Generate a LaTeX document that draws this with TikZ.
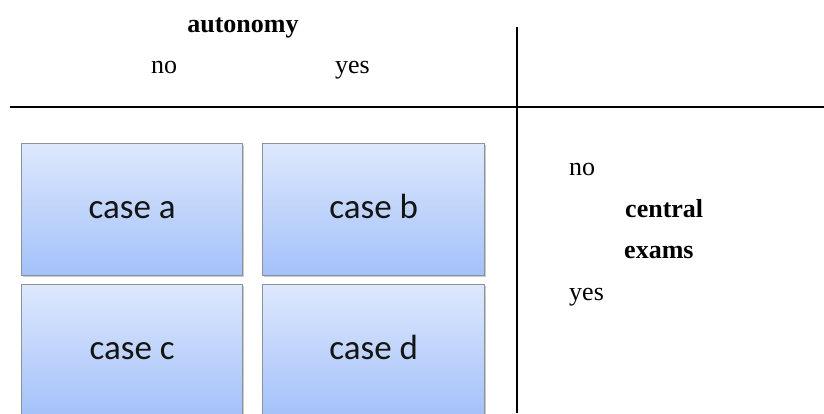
\documentclass[tikz,border=0pt]{standalone}
\usepackage{fontspec}
\usetikzlibrary{shadows}
\setmainfont{Liberation Serif}
\newfontfamily\casefont{Carlito}
\definecolor{boxtop}{RGB}{221,232,253}
\definecolor{boxbot}{RGB}{163,193,249}
\definecolor{boxedge}{RGB}{140,146,156}
\definecolor{casetext}{RGB}{20,20,20}
\tikzset{
  casebox/.style={rectangle, draw=boxedge, line width=1.4pt, top color=boxtop, bottom color=boxbot,
    drop shadow={shadow xshift=1.2pt, shadow yshift=-1.2pt, opacity=0.35, fill=black!60},
    minimum width=221pt, minimum height=132pt, inner sep=0pt, anchor=north west,
    text=casetext, font=\casefont\fontsize{35}{40}\selectfont, text height=17pt, text depth=0pt},
  lbl/.style={inner sep=0pt, font=\fontsize{26}{30}\selectfont},
  blbl/.style={lbl, font=\fontsize{26}{30}\selectfont\bfseries},
  axis/.style={line width=2pt, black}
}
\begin{document}
\begin{tikzpicture}[x=1pt,y=-1pt]
\useasboundingbox (0,0) rectangle (824,413);
\clip (0,0) rectangle (824,413);
% axes
\coordinate (hl) at (10,107);
\coordinate (hr) at (824,107);
\coordinate (vt) at (517,27);
\coordinate (vb) at (517,413);
\draw[axis] (hl) -- (hr);
\draw[axis] (vt) -- (vb);
% top labels
\node[blbl, anchor=base] (aut) at (243,32) {autonomy};
\node[lbl, anchor=base west] (ano) at (151,73) {no};
\node[lbl, anchor=base west] (ayes) at (335,73) {yes};
% right labels
\node[lbl, anchor=base west] (cno) at (569,175) {no};
\node[blbl, anchor=base west] (cen) at (625,217) {central};
\node[blbl, anchor=base west] (exa) at (624,258) {exams};
\node[lbl, anchor=base west] (cyes) at (569,300) {yes};
% boxes
\node[casebox] (a) at (21,143) {case a};
\node[casebox, minimum width=222pt] (b) at (262,143) {case b};
\node[casebox] (c) at (21,284) {case c};
\node[casebox, minimum width=222pt] (d) at (262,284) {case d};
\end{tikzpicture}
\end{document}
